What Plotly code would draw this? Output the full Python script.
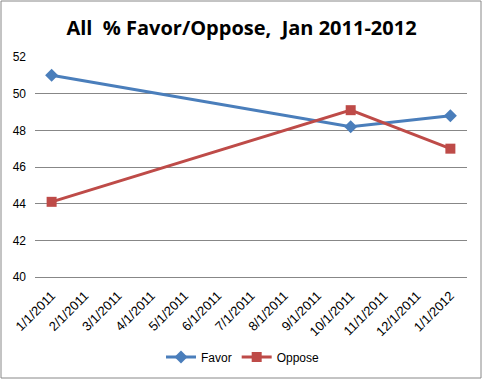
import plotly.graph_objects as go

categories = ["1/1/2011", "2/1/2011", "3/1/2011", "4/1/2011", "5/1/2011", "6/1/2011",
              "7/1/2011", "8/1/2011", "9/1/2011", "10/1/2011", "11/1/2011",
              "12/1/2011", "1/1/2012"]
favor = [51.0, None, None, None, None, None, None, None, None, 48.2, None, None, 48.8]
oppose = [44.1, None, None, None, None, None, None, None, None, 49.1, None, None, 47.0]
y_ticks = [40, 42, 44, 46, 48, 50, 52]

W, H = 483, 380
L, R, T, B = 35, 16, 57, 103
pw, ph = W - L - R, H - T - B

fig = go.Figure()
fig.add_trace(go.Scatter(x=categories, y=favor, name="Favor", mode="lines+markers",
                         connectgaps=True,
                         line=dict(color="#4A7EBB", width=3),
                         marker=dict(symbol="diamond", size=10, color="#4A7EBB")))
fig.add_trace(go.Scatter(x=categories, y=oppose, name="Oppose", mode="lines+markers",
                         connectgaps=True,
                         line=dict(color="#BE4B48", width=3),
                         marker=dict(symbol="square", size=10, color="#BE4B48")))

def px_x(p):
    return (p - L) / pw

def px_y(p):
    return (H - B - p) / ph

fig.add_shape(type="rect", xref="paper", yref="paper",
              x0=px_x(1), x1=px_x(481), y0=px_y(378), y1=px_y(1),
              line=dict(color="#888888", width=1), fillcolor="rgba(0,0,0,0)", layer="below")

fig.update_layout(
    width=W, height=H,
    margin=dict(l=L, r=R, t=T, b=B, autoexpand=False),
    paper_bgcolor="white", plot_bgcolor="white",
    font=dict(family="Liberation Sans, Arial, sans-serif", color="#000000"),
    title=dict(text="<b>All  % Favor/Oppose,  Jan 2011-2012</b>",
               x=0.5, xref="container", xanchor="center", y=1 - 28 / H, yanchor="middle",
               font=dict(size=20, family="Open Sans, Liberation Sans, sans-serif", color="#000000")),
    xaxis=dict(type="category", categoryorder="array", categoryarray=categories,
               range=[-0.5, len(categories) - 0.5], automargin=False,
               tickangle=-45, tickfont=dict(size=13), showgrid=False, ticklabelstandoff=5,
               showline=True, linecolor="#878787", linewidth=1, ticks="", zeroline=False),
    yaxis=dict(range=[40, 52], tickvals=y_ticks, tickfont=dict(size=12), automargin=False,
               showgrid=True, gridcolor="#878787", gridwidth=1, showline=False,
               zeroline=False, ticks="", ticklabelstandoff=8),
    legend=dict(orientation="h", x=px_x(243), xanchor="center", y=px_y(357), yanchor="middle",
                font=dict(size=12), itemwidth=30, bgcolor="rgba(0,0,0,0)"),
    showlegend=True,
)

fig.write_html("out.html", post_script="document.body.style.margin='0';",
               config={"displayModeBar": False})
